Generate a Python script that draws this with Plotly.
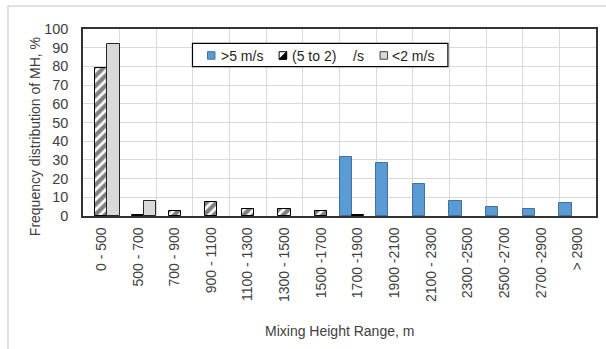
import plotly.graph_objects as go

categories = ["0 - 500", "500 - 700", "700 - 900", "900 - 1100", "1100 - 1300",
              "1300 - 1500", "1500 -1700", "1700 -1900", "1900 -2100", "2100 - 2300",
              "2300 -2500", "2500 -2700", "2700 -2900", "> 2900"]
above5 = [None, None, None, None, None, None, None, 31.3, 28.4, 17.0, 8.2, 5.0, 3.8, 6.8]
mid5to2 = [79.0, 0.4, 2.7, 7.7, 4.0, 3.6, 2.5, 0.3, None, None, None, None, None, None]
below2 = [92.0, 8.2, None, None, None, None, None, None, None, None, None, None, None, None]
series_names = [">5 m/s", "(5 to 2)", "/s", "<2 m/s"]
y_ticks = list(range(0, 101, 10))

W, H = 606, 349
L, R, T, B = 83.3, 10, 29, 133
pw, ph = W - L - R, H - T - B

def px_x(x):
    return (x - L) / pw

def px_y(y):
    return (H - B - y) / ph

font_main = "Liberation Sans, Arial, sans-serif"
BLUE, BLUE_LINE = "#5B9BD5", "#41719C"
GREY, GREY_LINE = "#D9D9D9", "#262626"

fig = go.Figure()
fig.add_trace(go.Bar(x=categories, y=above5, name=series_names[0],
                     marker=dict(color=BLUE, line=dict(color=BLUE_LINE, width=1))))
fig.add_trace(go.Bar(x=categories, y=mid5to2, name=series_names[1] + " /s",
                     marker=dict(color="white", line=dict(color="black", width=1),
                                 pattern=dict(shape="/", fgcolor="black", bgcolor="white",
                                              size=7, solidity=0.6))))
fig.add_trace(go.Bar(x=categories, y=below2, name=series_names[3],
                     marker=dict(color=GREY, line=dict(color=GREY_LINE, width=1))))

def rect(x0, y0, x1, y1, fill, line, width=1):
    return dict(type="rect", xref="paper", yref="paper",
                x0=px_x(x0), x1=px_x(x1), y0=px_y(y1), y1=px_y(y0),
                fillcolor=fill, line=dict(color=line, width=width), layer="above")

def label(text, x, y):
    return dict(text=text, xref="paper", yref="paper", x=px_x(x), y=px_y(y),
                xanchor="left", yanchor="middle", showarrow=False,
                font=dict(size=14, color="#262626"))

shapes = [
    dict(type="rect", xref="paper", yref="paper",
         x0=px_x(8.3), x1=px_x(612), y0=px_y(360), y1=px_y(6),
         line=dict(color="#D9D9D9", width=1.5), fillcolor="rgba(0,0,0,0)", layer="below"),
    rect(192.7, 43.3, 448, 66.7, "white", "black", 1.2),
    rect(207.7, 51.7, 215.2, 59.2, BLUE, BLUE_LINE),
    rect(279.3, 51.7, 286.8, 59.2, "white", "black"),
    dict(type="path", xref="paper", yref="paper",
         path="M {} {} L {} {} L {} {} Z".format(px_x(279.3), px_y(59.2), px_x(286.8), px_y(59.2),
                                                 px_x(286.8), px_y(51.7)),
         fillcolor="black", line=dict(color="black", width=1), layer="above"),
    rect(380.2, 51.7, 387.7, 59.2, GREY, "#404040"),
]

annotations = [
    dict(text="Frequency distribution of MH, %", xref="paper", yref="paper",
         x=px_x(35), y=px_y(136.5), textangle=-90, showarrow=False,
         xanchor="center", yanchor="middle", font=dict(size=14, color="#404040")),
    dict(text="Mixing Height Range, m", xref="paper", yref="paper",
         x=px_x(339.7), y=px_y(331), showarrow=False,
         xanchor="center", yanchor="middle", font=dict(size=14, color="#404040")),
    label(series_names[0], 219.5, 55.5),
    label(series_names[1], 290, 55.5),
    label(series_names[2], 351.5, 55.5),
    label(series_names[3], 390.5, 55.5),
]

fig.update_layout(
    width=W, height=H,
    margin=dict(l=L, r=R, t=T, b=B, autoexpand=False),
    paper_bgcolor="white", plot_bgcolor="white",
    barmode="group", bargap=0, bargroupgap=0,
    font=dict(family=font_main, size=14, color="#404040"),
    showlegend=False,
    hovermode=False,
    xaxis=dict(type="category", tickson="boundaries", showgrid=True, gridcolor="#D9D9D9",
               gridwidth=1, ticks="", tickangle=-90, showline=True, mirror=True,
               linecolor="#333333", linewidth=1.5, automargin=False, ticklabelstandoff=4,
               tickfont=dict(size=14, color="#404040")),
    yaxis=dict(range=[0, 100], tickvals=y_ticks, showgrid=True, gridcolor="#D9D9D9",
               gridwidth=1, ticks="", showline=True, mirror=True, linecolor="#333333",
               linewidth=1.5, automargin=False, ticklabelstandoff=10,
               tickfont=dict(size=14.5, color="#404040"), zeroline=False),
    shapes=shapes,
    annotations=annotations,
)

fig.write_html("out.html", config={"displayModeBar": False},
               post_script="document.body.style.margin='0px';")
